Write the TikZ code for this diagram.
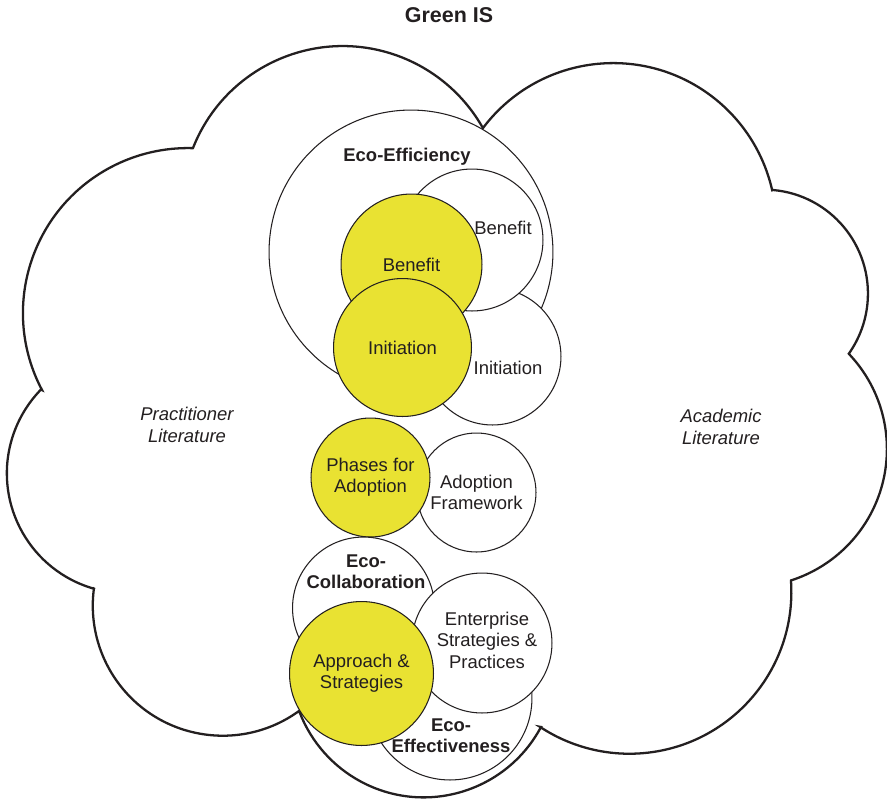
\documentclass[tikz,border=0pt]{standalone}
\usepackage{fontspec}
\setmainfont{Liberation Sans}
\definecolor{leafyellow}{RGB}{233,226,50}
\definecolor{inkgrey}{RGB}{35,31,32}

\begin{document}
\begin{tikzpicture}[
  x=0.02cm, y=-0.02cm,
  font=\fontsize{10.5}{12.2}\selectfont,
  text=inkgrey,
  cloud/.style = {draw=inkgrey, line width=1.3pt, fill=white},
  disc/.style = {
    circle, draw=inkgrey, line width=0.6pt, fill=white,
    inner sep=0pt, minimum size=#1*0.04cm, align=center,
  },
  hit/.style = {disc=#1, fill=leafyellow},
  plain/.style = {align=center},
  area/.style = {font=\fontsize{10.5}{12.2}\selectfont\bfseries, align=center},
  source/.style = {font=\fontsize{10.5}{12.2}\selectfont\itshape, align=center},
]
  \useasboundingbox (0,0) rectangle (887,799);

  \node[font=\fontsize{12.2}{14}\selectfont\bfseries] (title) at (449,15) {Green IS};

  % the cloud, one arc per bump, clockwise from the left cusp
  \path[cloud] (42,390)
    arc[start angle=152.2, end angle=271.7, radius=165]
    -- (193,148) arc[start angle=201.5, end angle=330.6, radius=160.9]
    -- (483,128) arc[start angle=217, end angle=347.3, radius=163]
    -- (773,190) arc[start angle=275, end angle=395.3, radius=104]
    -- (849,354) arc[start angle=316.5, end angle=432.2, radius=138]
    -- (791,581) arc[start angle=-3.8, end angle=123.5, radius=162]
    -- (541,727) arc[start angle=28.1, end angle=158.8, radius=133]
    -- (299,711) arc[start angle=54.1, end angle=187.6, radius=130]
    -- (95,589) arc[start angle=105.4, end angle=224.3, radius=120]
    -- cycle;

  % eco-efficiency group
  \node[disc=142] (effc) at (411,252) {};
  \node[disc=68.5] (initw) at (492.5,356.5) {};
  \node[disc=71] (benw) at (472,240) {};
  \node[hit=70.5] (beny) at (411.5,264.5) {Benefit};
  \node[hit=69] (inity) at (402.5,347.5) {Initiation};

  % adoption pair
  \node[disc=59.5] (adfw) at (476.5,492.5) {Adoption\\Framework};
  \node[hit=59.5] (phase) at (370.5,477.5) {Phases for\\Adoption};

  % eco-collaboration / eco-effectiveness group
  \node[disc=71] (collab) at (363.5,608) {};
  \node[disc=82] (effv) at (450,698) {};
  \node[disc=70] (entw) at (482,643) {};
  \node[hit=72] (appr) at (361.5,673.5) {Approach \&\\Strategies};

  % labels off centre
  \node[area] (efflbl) at (407,157) {Eco-Efficiency};
  \node[plain] (benlbl) at (503,228) {Benefit};
  \node[plain] (initlbl) at (508,368) {Initiation};
  \node[area] (collbl) at (366,572) {Eco-\\Collaboration};
  \node[plain] (entlbl) at (487,640) {Enterprise\\Strategies \&\\Practices};
  \node[area] (effvlbl) at (451,736) {Eco-\\Effectiveness};

  \node[source] (prac) at (187,425) {Practitioner\\Literature};
  \node[source] (acad) at (721,427) {Academic\\Literature};
\end{tikzpicture}
\end{document}
